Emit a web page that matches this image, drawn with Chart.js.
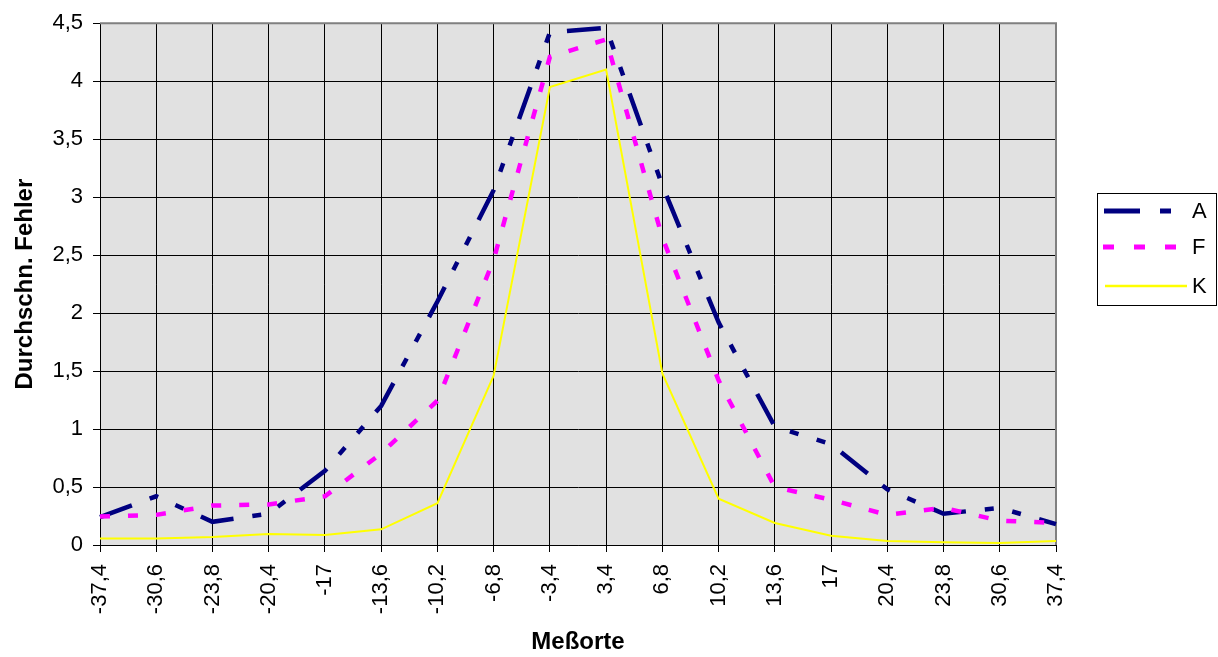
<!DOCTYPE html>
<html>
<head>
<meta charset="utf-8">
<script src="https://cdn.jsdelivr.net/npm/chart.js@4.4.1/dist/chart.umd.min.js"></script>
<style>
html,body{margin:0;padding:0;background:#ffffff;}
canvas{display:block;}
</style>
</head>
<body>
<canvas id="c" width="1218" height="657"></canvas>
<script>
// ---- data ----
const categories = ['-37,4','-30,6','-23,8','-20,4','-17','-13,6','-10,2','-6,8','-3,4','3,4','6,8','10,2','13,6','17','20,4','23,8','30,6','37,4'];
const seriesA = [0.24, 0.42, 0.20, 0.27, 0.64, 1.20, 2.10, 3.06, 4.42, 4.46, 3.10, 1.92, 1.02, 0.87, 0.48, 0.27, 0.32, 0.18];
const seriesF = [0.245, 0.26, 0.34, 0.35, 0.42, 0.79, 1.245, 2.46, 4.21, 4.36, 2.65, 1.42, 0.50, 0.39, 0.26, 0.32, 0.21, 0.19];
const seriesK = [0.057, 0.057, 0.069, 0.095, 0.086, 0.135, 0.36, 1.46, 3.95, 4.10, 1.48, 0.40, 0.19, 0.08, 0.035, 0.023, 0.017, 0.035];
const seriesNames = ['A', 'F', 'K'];
const yTickLabels = ['0','0,5','1','1,5','2','2,5','3','3,5','4','4,5'];
const xTitle = 'Meßorte';
const yTitle = 'Durchschn. Fehler';

const FONT = "'Liberation Sans', Arial, sans-serif";

const plotBg = {
  id: 'plotBg',
  beforeDraw(chart) {
    const {ctx, chartArea: a} = chart;
    ctx.save();
    ctx.fillStyle = '#e1e1e1';
    ctx.fillRect(a.left, a.top, a.right - a.left, a.bottom - a.top);
    ctx.restore();
  }
};

const plotFrame = {
  id: 'plotFrame',
  beforeDatasetsDraw(chart) {
    const {ctx, chartArea: a} = chart;
    ctx.save();
    ctx.strokeStyle = '#808080';
    ctx.lineWidth = 2;
    ctx.beginPath();
    ctx.moveTo(a.left, a.top);
    ctx.lineTo(a.right, a.top);
    ctx.lineTo(a.right, a.bottom);
    ctx.stroke();
    ctx.restore();
  }
};

const legendDashes = [[36, 20, 11, 200], [11, 20], []];
const legendBox = {
  id: 'legendBox',
  afterDraw(chart) {
    const ctx = chart.ctx;
    ctx.save();
    ctx.strokeStyle = '#000';
    ctx.lineWidth = 1;
    ctx.setLineDash([]);
    ctx.strokeRect(1097.5, 193.5, 119, 112);
    const rowsY = [211, 247, 286];
    const lineX = [[1104, 1172], [1103, 1177], [1105, 1187]];
    chart.data.datasets.forEach((ds, i) => {
      ctx.save();
      ctx.strokeStyle = ds.borderColor;
      ctx.lineWidth = ds.borderWidth + 0.5;
      ctx.lineCap = 'butt';
      ctx.setLineDash(legendDashes[i]);
      ctx.beginPath();
      ctx.moveTo(lineX[i][0], rowsY[i]);
      ctx.lineTo(lineX[i][1], rowsY[i]);
      ctx.stroke();
      ctx.restore();
      ctx.fillStyle = '#000';
      ctx.font = '22px ' + FONT;
      ctx.textAlign = 'left';
      ctx.textBaseline = 'middle';
      ctx.fillText(ds.label, 1192, rowsY[i] + 1);
    });
    ctx.restore();
  }
};

new Chart(document.getElementById('c'), {
  type: 'line',
  data: {
    labels: categories,
    datasets: [
      {label: seriesNames[0], data: seriesA, borderColor: '#000080', borderWidth: 4.5,
       borderDash: [34, 19, 9, 19, 9, 19], borderCapStyle: 'butt', pointRadius: 0, tension: 0, fill: false, order: 2},
      {label: seriesNames[1], data: seriesF, borderColor: '#ff00ff', borderWidth: 4.5,
       borderDash: [10, 18], borderCapStyle: 'butt', pointRadius: 0, tension: 0, fill: false, order: 1},
      {label: seriesNames[2], data: seriesK, borderColor: '#ffff00', borderWidth: 2,
       pointRadius: 0, tension: 0, fill: false, order: 0}
    ]
  },
  options: {
    responsive: false,
    devicePixelRatio: 1,
    animation: false,
    layout: {padding: {left: 0, right: 162, top: 21, bottom: 0}},
    plugins: {legend: {display: false}, tooltip: {enabled: false}},
    scales: {
      x: {
        type: 'category',
        offset: false,
        afterFit: (s) => { s.height = 112; },
        grid: {color: '#000', lineWidth: 1, tickLength: 7, drawTicks: true},
        border: {display: true, color: '#000', width: 1},
        ticks: {autoSkip: false, maxRotation: 90, minRotation: 90, padding: 12, color: '#000',
                font: {family: FONT, size: 22}},
        title: {display: true, text: xTitle, color: '#000', padding: {top: 0, bottom: 0},
                font: {family: FONT, size: 24, weight: 'bold'}}
      },
      y: {
        type: 'linear',
        min: 0, max: 4.5,
        afterFit: (s) => { s.width = 100; },
        grid: {color: '#000', lineWidth: 1, tickLength: 7, drawTicks: true},
        border: {display: true, color: '#000', width: 1},
        ticks: {stepSize: 0.5, padding: 10, color: '#000', font: {family: FONT, size: 22},
                callback: (v, i) => yTickLabels[i]},
        title: {display: true, text: yTitle, color: '#000', padding: {top: 11, bottom: 0},
                font: {family: FONT, size: 24, weight: 'bold'}}
      }
    }
  },
  plugins: [plotBg, plotFrame, legendBox]
});
</script>
</body>
</html>
